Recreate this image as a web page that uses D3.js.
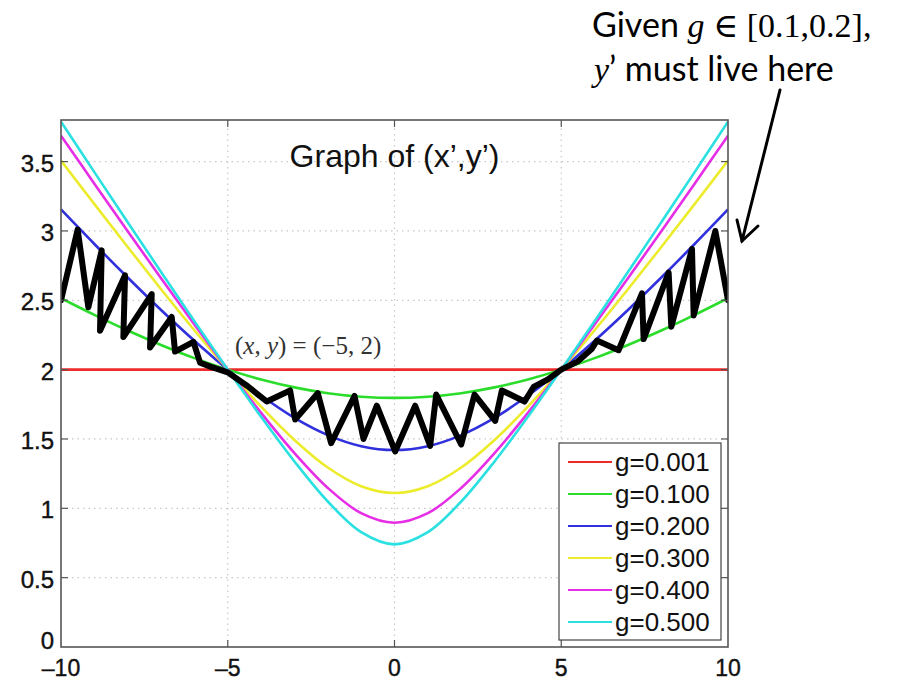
<!DOCTYPE html>
<html>
<head>
<meta charset="utf-8">
<script src="https://cdn.jsdelivr.net/npm/d3@7"></script>
<style>
  body { margin: 0; background: #fff; }
  svg { display: block; }
</style>
</head>
<body>
<svg id="chart" width="902" height="681"></svg>
<script>
const width = 902;
const height = 681;
const margin = { top: 120, right: 174, bottom: 34, left: 61 };

// sample positions along x and the curves
const xs = [-10, -9, -8, -7, -6, -5, -4, -3, -2, -1, 0, 1, 2, 3, 4, 5, 6, 7, 8, 9, 10];
const g001 = [2, 2, 2, 2, 2, 2, 2, 2, 2, 2, 2, 2, 2, 2, 2, 2, 2, 2, 2, 2, 2];
const g100 = [2.515, 2.395, 2.282, 2.178, 2.083, 2.0, 1.929, 1.872, 1.830, 1.805, 1.796, 1.805, 1.830, 1.872, 1.929, 2.0, 2.083, 2.178, 2.282, 2.395, 2.515];
const g200 = [3.155, 2.906, 2.664, 2.430, 2.208, 2.0, 1.813, 1.652, 1.528, 1.448, 1.42, 1.448, 1.528, 1.652, 1.813, 2.0, 2.208, 2.430, 2.664, 2.906, 3.155];
const g300 = [3.507, 3.194, 2.884, 2.580, 2.284, 2.0, 1.733, 1.493, 1.294, 1.159, 1.11, 1.159, 1.294, 1.493, 1.733, 2.0, 2.284, 2.580, 2.884, 3.194, 3.507];
const g400 = [3.687, 3.341, 2.998, 2.659, 2.325, 2.0, 1.688, 1.398, 1.147, 0.965, 0.896, 0.965, 1.147, 1.398, 1.688, 2.0, 2.325, 2.659, 2.998, 3.341, 3.687];
const g500 = [3.788, 3.424, 3.063, 2.704, 2.349, 2.0, 1.660, 1.338, 1.049, 0.828, 0.74, 0.828, 1.049, 1.338, 1.660, 2.0, 2.349, 2.704, 3.063, 3.424, 3.788];

const seriesNames = ["g=0.001", "g=0.100", "g=0.200", "g=0.300", "g=0.400", "g=0.500"];
const seriesValues = [g001, g100, g200, g300, g400, g500];
const seriesColors = ["#ee2a2a", "#2bdc2b", "#3030dc", "#ecec2c", "#e62ee6", "#2ae0e0"];

// the hand-drawn black zigzag (x', y')
const traceX = [-10.0, -9.5, -9.18, -8.78, -8.83, -8.08, -8.13, -7.28, -7.33, -6.68, -6.58, -6.03, -5.83, -5.5, -5.0,
  -4.4, -3.83, -3.13, -2.98, -2.3, -1.9, -1.2, -0.93, -0.53, 0.02, 0.62, 1.07, 1.25, 2.0, 2.4, 3.02, 3.22, 3.9, 4.17, 4.6, 5.0,
  5.5, 5.92, 6.07, 6.72, 7.42, 7.47, 8.22, 8.3, 8.92, 8.97, 9.62, 10.0];
const traceY = [2.50, 3.01, 2.45, 2.86, 2.28, 2.68, 2.235, 2.545, 2.16, 2.38, 2.13, 2.20, 2.05, 2.02, 1.98,
  1.88, 1.77, 1.85, 1.64, 1.83, 1.47, 1.81, 1.50, 1.74, 1.41, 1.74, 1.45, 1.82, 1.46, 1.82, 1.63, 1.85, 1.77, 1.875, 1.93, 2.0,
  2.06, 2.15, 2.21, 2.14, 2.55, 2.22, 2.70, 2.31, 2.87, 2.39, 3.0, 2.50];

const xTicks = [-10, -5, 0, 5, 10];
const yTicks = [0, 0.5, 1, 1.5, 2, 2.5, 3, 3.5];

const svg = d3.select("#chart");

const x = d3.scaleLinear().domain([-10, 10]).range([margin.left, width - margin.right]);
const y = d3.scaleLinear().domain([0, 3.8]).range([height - margin.bottom, margin.top]);

// grid
const grid = svg.append("g")
    .attr("stroke", "#c8c8c8")
    .attr("stroke-width", 1.2)
    .attr("stroke-dasharray", "1.5,4");
grid.selectAll(".gx")
    .data(xTicks.slice(1, -1))
    .join("line")
    .attr("x1", d => x(d)).attr("x2", d => x(d))
    .attr("y1", y(0)).attr("y2", y(3.8));
grid.selectAll(".gy")
    .data(yTicks.slice(1))
    .join("line")
    .attr("class", "gy")
    .attr("x1", x(-10)).attr("x2", x(10))
    .attr("y1", d => y(d)).attr("y2", d => y(d));

svg.append("defs").append("clipPath").attr("id", "clip")
    .append("rect")
    .attr("x", x(-10)).attr("y", y(3.8))
    .attr("width", x(10) - x(-10)).attr("height", y(0) - y(3.8));

const line = d3.line()
    .x(d => x(d[0]))
    .y(d => y(d[1]))
    .curve(d3.curveCatmullRom);

const plot = svg.append("g").attr("clip-path", "url(#clip)");

plot.selectAll(".curve")
    .data(seriesValues)
    .join("path")
    .attr("class", "curve")
    .attr("fill", "none")
    .attr("stroke", (d, i) => seriesColors[i])
    .attr("stroke-width", 2.6)
    .attr("d", d => line(d.map((v, i) => [xs[i], v])));

const trace = traceX.map((v, i) => [v, traceY[i]]);
plot.append("path")
    .attr("fill", "none")
    .attr("stroke", "#000")
    .attr("stroke-width", 6)
    .attr("stroke-linejoin", "round")
    .attr("stroke-linecap", "round")
    .attr("d", d3.line().x(d => x(d[0])).y(d => y(d[1]))(trace));

// frame and inward ticks
svg.append("rect")
    .attr("x", x(-10)).attr("y", y(3.8))
    .attr("width", x(10) - x(-10)).attr("height", y(0) - y(3.8))
    .attr("fill", "none")
    .attr("stroke", "#555")
    .attr("stroke-width", 1.6);

const ticks = svg.append("g").attr("stroke", "#555").attr("stroke-width", 1.2);
xTicks.slice(1, -1).forEach(t => {
  ticks.append("line").attr("x1", x(t)).attr("x2", x(t)).attr("y1", y(0)).attr("y2", y(0) - 7);
  ticks.append("line").attr("x1", x(t)).attr("x2", x(t)).attr("y1", y(3.8)).attr("y2", y(3.8) + 7);
});
yTicks.slice(1).forEach(t => {
  ticks.append("line").attr("x1", x(-10)).attr("x2", x(-10) + 7).attr("y1", y(t)).attr("y2", y(t));
  ticks.append("line").attr("x1", x(10)).attr("x2", x(10) - 7).attr("y1", y(t)).attr("y2", y(t));
});

const labelFont = "'Liberation Sans', Arial, Helvetica, sans-serif";

svg.append("g")
    .selectAll("text")
    .data(xTicks)
    .join("text")
    .attr("x", d => x(d))
    .attr("y", height - margin.bottom + 29)
    .attr("text-anchor", "middle")
    .attr("font-family", labelFont)
    .attr("font-size", 23)
    .attr("fill", "#111")
    .attr("stroke", "#111")
    .attr("stroke-width", 0.4)
    .text(d => d < 0 ? "\u2013" + Math.abs(d) : d);

svg.append("g")
    .selectAll("text")
    .data(yTicks)
    .join("text")
    .attr("x", margin.left - 7)
    .attr("y", d => y(d) + (d === 0 ? 2 : 10))
    .attr("text-anchor", "end")
    .attr("font-family", labelFont)
    .attr("font-size", 24)
    .attr("fill", "#111")
    .attr("stroke", "#111")
    .attr("stroke-width", 0.4)
    .text(d => d);

// title inside the axes
svg.append("text")
    .attr("x", x(0))
    .attr("y", 167)
    .attr("text-anchor", "middle")
    .attr("font-family", labelFont)
    .attr("font-size", 32)
    .attr("fill", "#111")
    .text("Graph of (x\u2019,y\u2019)");

// point label
const pt = svg.append("text")
    .attr("x", 235)
    .attr("y", 354)
    .attr("font-family", "'Liberation Serif', 'Times New Roman', serif")
    .attr("font-size", 25)
    .attr("fill", "#333");
pt.append("tspan").text("(");
pt.append("tspan").attr("font-style", "italic").text("x");
pt.append("tspan").text(", ");
pt.append("tspan").attr("font-style", "italic").text("y");
pt.append("tspan").text(") = (\u22125, 2)");

// legend
const legend = svg.append("g");
legend.append("rect")
    .attr("x", 559).attr("y", 443)
    .attr("width", 162).attr("height", 197)
    .attr("fill", "#fff")
    .attr("stroke", "#444")
    .attr("stroke-width", 1.2);
const rows = legend.selectAll(".row")
    .data(seriesNames)
    .join("g")
    .attr("class", "row")
    .attr("transform", (d, i) => `translate(0, ${462 + i * 32})`);
rows.append("line")
    .attr("x1", 568).attr("x2", 612)
    .attr("stroke", (d, i) => seriesColors[i])
    .attr("stroke-width", 2);
rows.append("text")
    .attr("x", 615)
    .attr("y", 9)
    .attr("font-family", labelFont)
    .attr("font-size", 26)
    .attr("fill", "#111")
    .text(d => d);

// annotation at the top right
const noteFont = "Lato, 'Open Sans', sans-serif";
const mathFont = "'Liberation Serif', 'DejaVu Serif', serif";
const n1 = svg.append("text")
    .attr("x", 592).attr("y", 37)
    .attr("font-family", noteFont)
    .attr("font-size", 34)
    .attr("fill", "#000");
n1.append("tspan").text("Given ");
n1.append("tspan").attr("font-family", mathFont).attr("font-style", "italic").text("g");
n1.append("tspan").attr("font-family", mathFont).text(" \u2208 [0.1,0.2],");

const n2 = svg.append("text")
    .attr("x", 594).attr("y", 81)
    .attr("font-family", noteFont)
    .attr("font-size", 34)
    .attr("fill", "#000");
n2.append("tspan").attr("font-family", mathFont).attr("font-style", "italic").text("y");
n2.append("tspan").text("\u2019 must live here");

const arrow = svg.append("g")
    .attr("stroke", "#000")
    .attr("stroke-width", 3)
    .attr("stroke-linecap", "round")
    .attr("fill", "none");
arrow.append("line").attr("x1", 780).attr("y1", 90).attr("x2", 742).attr("y2", 241);
arrow.append("polyline").attr("points", "737,220 742,241 758,226");
</script>
</body>
</html>
